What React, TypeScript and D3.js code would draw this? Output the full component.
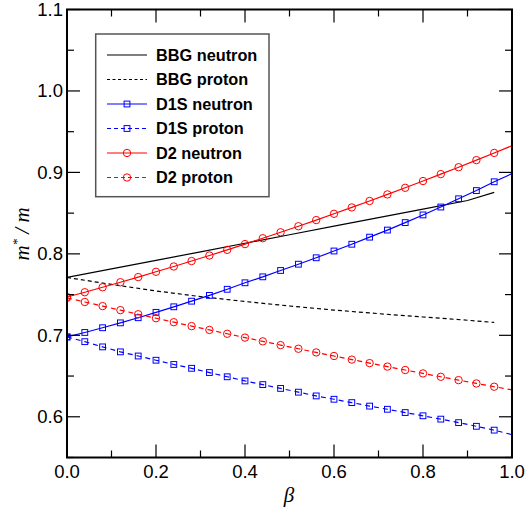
import React from "react";
import * as d3 from "d3";

// beta grid of the D1S / D2 calculations
const betaGrid = [
  0, 0.04, 0.08, 0.12, 0.16, 0.2, 0.24, 0.28, 0.32, 0.36, 0.4, 0.44, 0.48,
  0.52, 0.56, 0.6, 0.64, 0.68, 0.72, 0.76, 0.8, 0.84, 0.88, 0.92, 0.96, 1.0,
];

const d1sNeutron = [
  0.698, 0.7035, 0.7093, 0.7153, 0.7216, 0.7282, 0.735, 0.7419, 0.749, 0.7565,
  0.7645, 0.7718, 0.7796, 0.7873, 0.7952, 0.8035, 0.8118, 0.8205, 0.8292,
  0.8384, 0.8478, 0.8575, 0.8676, 0.8777, 0.8885, 0.8985,
];
const d1sProton = [
  0.698, 0.6922, 0.6858, 0.6797, 0.6746, 0.6694, 0.6642, 0.6595, 0.6543,
  0.6491, 0.644, 0.6395, 0.6348, 0.6302, 0.6256, 0.6215, 0.6174, 0.6131,
  0.6092, 0.6052, 0.6012, 0.5971, 0.5928, 0.5883, 0.5836, 0.578,
];
const d2Neutron = [
  0.747, 0.7529, 0.759, 0.7652, 0.7715, 0.778, 0.7845, 0.7912, 0.798, 0.8049,
  0.812, 0.8192, 0.8265, 0.8339, 0.8415, 0.8492, 0.857, 0.8649, 0.873,
  0.8811, 0.8894, 0.8979, 0.9064, 0.9151, 0.9239, 0.9328,
];
const d2Proton = [
  0.746, 0.7409, 0.7359, 0.7309, 0.7259, 0.721, 0.7161, 0.7113, 0.7066,
  0.7019, 0.6972, 0.6926, 0.688, 0.6835, 0.679, 0.6746, 0.6702, 0.6659,
  0.6616, 0.6574, 0.6532, 0.6491, 0.645, 0.6409, 0.6369, 0.633,
];

// BBG results
const bbgBeta = [0, 0.1, 0.2, 0.3, 0.4, 0.5, 0.6, 0.7, 0.8, 0.9, 0.96];
const bbgNeutron = [
  0.771, 0.7815, 0.792, 0.8025, 0.813, 0.8235, 0.834, 0.8445, 0.855, 0.8655,
  0.8755,
];
const bbgProton = [
  0.771, 0.7625, 0.7545, 0.7475, 0.7415, 0.736, 0.731, 0.7266, 0.7225,
  0.7185, 0.7158,
];

const xMajorTicks = [0, 0.2, 0.4, 0.6, 0.8, 1.0];
const xMinorTicks = [0.1, 0.3, 0.5, 0.7, 0.9];
const yMajorTicks = [0.6, 0.7, 0.8, 0.9, 1.0, 1.1];
const yMinorTicks = [0.55, 0.65, 0.75, 0.85, 0.95, 1.05];

type Series = {
  name: string;
  xs: number[];
  ys: number[];
  color: string;
  dash: string | null;
  marker: "none" | "square" | "circle";
};

const series: Series[] = [
  { name: "BBG neutron", xs: bbgBeta, ys: bbgNeutron, color: "#000000", dash: null, marker: "none" },
  { name: "BBG proton", xs: bbgBeta, ys: bbgProton, color: "#000000", dash: "4,3", marker: "none" },
  { name: "D1S neutron", xs: betaGrid, ys: d1sNeutron, color: "#0000ff", dash: null, marker: "square" },
  { name: "D1S proton", xs: betaGrid, ys: d1sProton, color: "#0000ff", dash: "5,4", marker: "square" },
  { name: "D2 neutron", xs: betaGrid, ys: d2Neutron, color: "#ff0000", dash: null, marker: "circle" },
  { name: "D2 proton", xs: betaGrid, ys: d2Proton, color: "#ff0000", dash: "5,4", marker: "circle" },
];

const W = 526;
const H = 514;
const left = 67;
const right = 512;
const top = 9.5;
const bottom = 457.5;

const x = d3.scaleLinear().domain([0, 1]).range([left, right]);
const y = d3.scaleLinear().domain([0.55, 1.1]).range([bottom, top]);

const sans = "'Liberation Sans', Arial, Helvetica, sans-serif";
const serif = "'Liberation Serif', 'Times New Roman', serif";

function Marker({ kind, cx, cy, color }: { kind: string; cx: number; cy: number; color: string }) {
  if (kind === "square") {
    return <rect x={cx - 2.9} y={cy - 2.9} width={5.8} height={5.8} fill="none" stroke={color} strokeWidth={1} />;
  }
  if (kind === "circle") {
    return <circle cx={cx} cy={cy} r={3.7} fill="none" stroke={color} strokeWidth={1} />;
  }
  return null;
}

export default function App() {
  const line = d3
    .line<[number, number]>()
    .x((d) => x(d[0]))
    .y((d) => y(d[1]));

  const majorLen = 13;
  const minorLen = 7;

  const legendRows = series.map((s, i) => ({ s, cy: 55 + i * 24.5 }));

  return (
    <svg
      width={W}
      height={H}
      style={{ position: "absolute", left: 0, top: 0, background: "#fff" }}
    >
      <defs>
        <clipPath id="plotArea">
          <rect x={left} y={top} width={right - left} height={bottom - top} />
        </clipPath>
      </defs>

      {/* data curves */}
      <g clipPath="url(#plotArea)">
        {series.map((s) => {
          const pts = s.xs.map((b, i) => [b, s.ys[i]] as [number, number]);
          return (
            <g key={s.name}>
              <path
                d={line(pts) || ""}
                fill="none"
                stroke={s.color}
                strokeWidth={1.2}
                strokeDasharray={s.dash || undefined}
              />
              {s.marker !== "none" &&
                pts
                  .filter((p) => p[0] < 0.99)
                  .map((p, i) => (
                    <Marker key={i} kind={s.marker} cx={x(p[0])} cy={y(p[1])} color={s.color} />
                  ))}
            </g>
          );
        })}
      </g>

      {/* ticks on all four sides, pointing inward */}
      <g stroke="#000" strokeWidth={1.2}>
        {xMajorTicks.map((t) => (
          <g key={"xM" + t}>
            <line x1={x(t)} x2={x(t)} y1={bottom} y2={bottom - majorLen} />
            <line x1={x(t)} x2={x(t)} y1={top} y2={top + majorLen} />
          </g>
        ))}
        {xMinorTicks.map((t) => (
          <g key={"xm" + t}>
            <line x1={x(t)} x2={x(t)} y1={bottom} y2={bottom - minorLen} />
            <line x1={x(t)} x2={x(t)} y1={top} y2={top + minorLen} />
          </g>
        ))}
        {yMajorTicks.map((t) => (
          <g key={"yM" + t}>
            <line x1={left} x2={left + majorLen} y1={y(t)} y2={y(t)} />
            <line x1={right} x2={right - majorLen} y1={y(t)} y2={y(t)} />
          </g>
        ))}
        {yMinorTicks.map((t) => (
          <g key={"ym" + t}>
            <line x1={left} x2={left + minorLen} y1={y(t)} y2={y(t)} />
            <line x1={right} x2={right - minorLen} y1={y(t)} y2={y(t)} />
          </g>
        ))}
      </g>

      {/* frame */}
      <rect
        x={left}
        y={top}
        width={right - left}
        height={bottom - top}
        fill="none"
        stroke="#000"
        strokeWidth={2}
      />

      {/* tick labels */}
      <g fontFamily={sans} fontSize={18.5} fill="#000">
        {xMajorTicks.map((t) => (
          <text key={"xl" + t} x={x(t)} y={478} textAnchor="middle">
            {d3.format(".1f")(t)}
          </text>
        ))}
        {yMajorTicks.map((t) => (
          <text key={"yl" + t} x={63} y={y(t) + 6.5} textAnchor="end">
            {d3.format(".1f")(t)}
          </text>
        ))}
      </g>

      {/* axis titles */}
      <text
        x={289}
        y={502}
        textAnchor="middle"
        fontFamily={serif}
        fontStyle="italic"
        fontSize={21}
      >
        β
      </text>
      <text
        transform={`translate(29, 234) rotate(-90)`}
        textAnchor="middle"
        fontFamily={serif}
        fontStyle="italic"
        fontSize={21}
      >
        <tspan>m</tspan>
        <tspan dy={-8} fontSize={13}>*</tspan>
        <tspan dy={8}> / m</tspan>
      </text>

      {/* legend */}
      <rect x={95.7} y={34} width={173.3} height={162.7} fill="#fff" stroke="#555" strokeWidth={1.5} />
      {legendRows.map(({ s, cy }) => (
        <g key={"lg" + s.name}>
          <line
            x1={107}
            x2={147}
            y1={cy}
            y2={cy}
            stroke={s.color}
            strokeWidth={1.2}
            strokeDasharray={s.dash ? (s.marker === "none" ? "3,2.5" : "4,3") : undefined}
          />
          <Marker kind={s.marker} cx={127} cy={cy} color={s.color} />
          <text x={156} y={cy + 5.5} fontFamily={sans} fontWeight="bold" fontSize={16.3}>
            {s.name}
          </text>
        </g>
      ))}
    </svg>
  );
}
